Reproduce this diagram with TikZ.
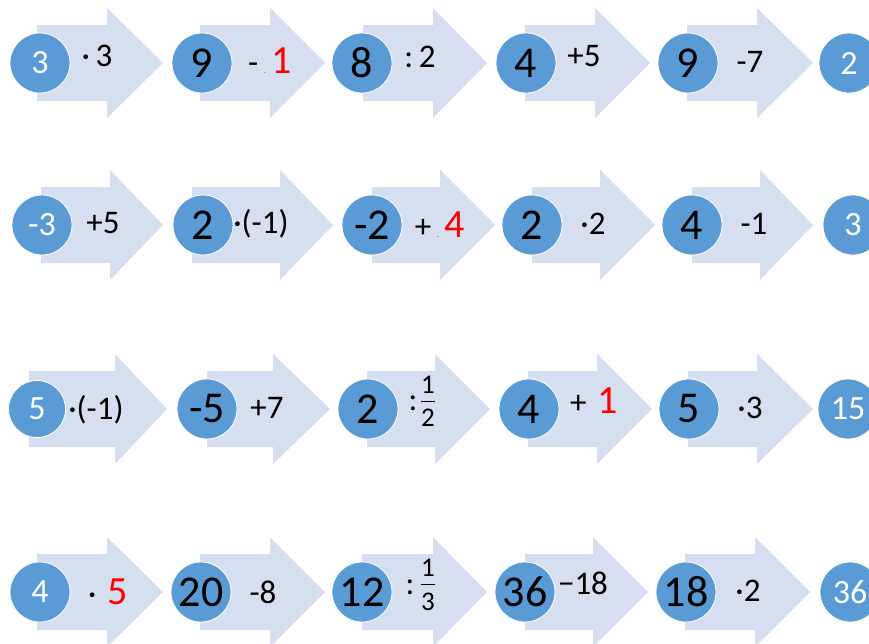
\documentclass[tikz,border=0pt]{standalone}
\usepackage{fontspec}
\setmainfont{Carlito}
\definecolor{arrowc}{RGB}{214,223,240}
\definecolor{circc}{RGB}{91,155,213}
\definecolor{redc}{RGB}{255,0,0}
\newcommand\arrowshp[4]{\fill[arrowc] (#1,#4-38) -- (#2,#4-38) -- (#2,#4-55) -- (#3,#4) -- (#2,#4+55) -- (#2,#4+38) -- (#1,#4+38) -- cycle;}
\newcommand\opsz{\fontsize{33}{35}\selectfont}
\newcommand\redsz{\fontsize{40}{42}\selectfont}
\newcommand\fracsz{\fontsize{27}{29}\selectfont}
\newcommand\tinydot{{\color{gray}\fontsize{10}{10}\selectfont.}}
\tikzset{
  numc/.style={circle, fill=circc, draw=white, line width=0.8pt, minimum size=60pt, inner sep=0pt},
  wt/.style={numc, text=white, font=\fontsize{34}{36}\selectfont},
  bk/.style={numc, text=black, font=\fontsize{44}{46}\selectfont},
  op/.style={inner sep=0pt, text=black, font=\opsz},
  fr/.style={inner sep=0pt, text=black, font=\fracsz},
}
\begin{document}
\begin{tikzpicture}[x=1pt,y=-1pt]
\useasboundingbox (0,0) rectangle (869,643);
% arrows row 1
\arrowshp{37}{107}{163}{63}
\arrowshp{200}{270}{325}{63}
\arrowshp{363}{433}{487}{63}
\arrowshp{525}{595}{650}{63}
\arrowshp{687}{757}{813}{63}
% row 2
\arrowshp{41}{110}{163}{225}
\arrowshp{192}{280}{333}{225}
\arrowshp{372}{440}{495}{225}
\arrowshp{532}{600}{655}{225}
\arrowshp{692}{760}{813}{225}
% row 3
\arrowshp{29}{115}{167}{409}
\arrowshp{207}{273}{330}{409}
\arrowshp{367}{435}{490}{409}
\arrowshp{528}{597}{652}{409}
\arrowshp{688}{757}{813}{409}
% row 4
\arrowshp{37}{107}{163}{592}
\arrowshp{200}{270}{325}{592}
\arrowshp{362}{433}{487}{592}
\arrowshp{525}{593}{648}{592}
\arrowshp{685}{755}{810}{592}

% circles row 1
\node[wt] (a0) at (40,63) {3};
\node[bk] (a1) at (202,63) {9};
\node[bk] (a2) at (362,63) {8};
\node[bk] (a3) at (526,63) {4};
\node[bk] (a4) at (688,63) {9};
\node[wt] (a5) at (849,63) {2};
% row 2
\node[wt] (b0) at (42,225) {-3};
\node[bk] (b1) at (203,225) {2};
\node[bk] (b2) at (372,225) {-2};
\node[bk] (b3) at (532,225) {2};
\node[bk] (b4) at (692,225) {4};
\node[wt] (b5) at (853,225) {3};
% row 3
\node[wt, minimum size=57pt] (c0) at (37,409) {5};
\node[bk] (c1) at (207,409) {-5};
\node[bk] (c2) at (368,409) {2};
\node[bk] (c3) at (529,409) {4};
\node[bk] (c4) at (689,409) {5};
\node[wt] (c5) at (848,409) {15};
% row 4
\node[wt] (d0) at (40,592) {4};
\node[bk] (d1) at (201,592) {20};
\node[bk] (d2) at (362,592) {12};
\node[bk] (d3) at (525,592) {36};
\node[bk] (d4) at (686,592) {18};
\node[wt] (d5) at (850,592) {36};

% operations row 1
\node[op] (oa1) at (97,56) {·\,3};
\node[op] (oa2) at (270,61) {-\,\tinydot\,{\redsz\color{redc}1}};
\node[op] (oa3) at (420,57) {:\,2};
\node[op] (oa4) at (584,56) {+5};
\node[op] (oa5) at (750,62) {-7};
% row 2
\node[op] (ob1) at (103,223) {+5};
\node[op] (ob2) at (261,224) {·(-1)};
\node[op] (ob3) at (440,225) {+\,\tinydot\,{\redsz\color{redc}4}};
\node[op] (ob4) at (593,224) {·2};
\node[op] (ob5) at (754,224) {-1};
% row 3
\node[op] (oc1) at (96,410) {·(-1)};
\node[op] (oc2) at (267,408) {+7};
\node[op] (oc3c) at (413,403) {:};
\node[fr] (oc3n) at (428,385) {1};
\node[fr] (oc3d) at (428,418) {2};
\draw[line width=0.9pt] (421,401) -- (435,401);
\node[op] (oc4) at (594,401) {+\,\,{\redsz\color{redc}1}};
\node[op] (oc5) at (750,408) {·3};
% row 4
\node[op] (od1) at (108,592) {·\,\,{\redsz\color{redc}5}};
\node[op] (od2) at (263,592) {-8};
\node[op] (od3c) at (410,587) {:};
\node[fr] (od3n) at (428,568) {1};
\node[fr] (od3d) at (428,602) {3};
\draw[line width=0.9pt] (421,584) -- (435,584);
\node[op] (od4) at (583,583) {−18};
\node[op] (od5) at (748,591) {·2};
\end{tikzpicture}
\end{document}
